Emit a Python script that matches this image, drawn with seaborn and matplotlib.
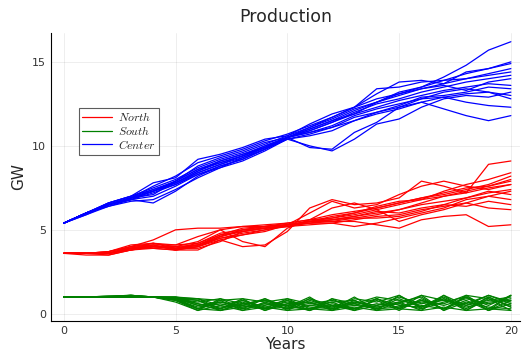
import numpy as np
import pandas as pd
import seaborn as sns
import matplotlib.pyplot as plt

years = list(range(0, 21))

# Center paths (GW), one value per year
center = [
    [5.4, 6.0, 6.5, 6.9, 7.3, 7.8, 8.5, 9.0, 9.4, 9.9, 10.5, 10.9, 11.4, 11.9, 12.3, 12.7, 13.0, 13.3, 13.5, 13.7, 13.6],
    [5.4, 6.0, 6.6, 7.0, 7.5, 8.0, 8.7, 9.2, 9.6, 10.1, 10.6, 11.1, 11.6, 12.2, 12.6, 13.0, 13.4, 13.7, 14.0, 14.3, 14.6],
    [5.4, 5.9, 6.4, 6.7, 6.8, 7.4, 8.1, 8.7, 9.1, 9.7, 10.4, 10.7, 11.1, 11.5, 11.9, 12.2, 12.6, 12.9, 13.1, 13.2, 12.8],
    [5.4, 6.0, 6.5, 6.8, 6.6, 7.3, 8.2, 8.8, 9.2, 9.8, 10.4, 10.0, 9.7, 10.4, 11.3, 11.6, 12.3, 12.8, 13.0, 12.9, 13.2],
    [5.4, 6.0, 6.5, 6.9, 7.6, 8.2, 9.0, 9.4, 9.8, 10.3, 10.7, 11.2, 11.7, 12.3, 13.1, 13.8, 13.9, 13.7, 14.4, 14.6, 15.0],
    [5.4, 6.0, 6.6, 7.0, 7.4, 7.9, 8.6, 9.1, 9.5, 10.0, 10.5, 11.0, 11.5, 12.1, 12.6, 13.2, 13.5, 14.1, 14.8, 15.7, 16.2],
    [5.4, 6.0, 6.4, 6.8, 7.2, 7.7, 8.3, 8.8, 9.2, 9.8, 10.4, 10.6, 10.9, 11.5, 12.0, 12.3, 12.6, 12.2, 11.8, 11.5, 11.8],
    [5.4, 6.0, 6.5, 6.9, 7.3, 7.9, 8.6, 9.0, 9.4, 9.9, 10.5, 10.9, 11.4, 12.0, 12.5, 12.8, 13.2, 13.5, 13.8, 14.0, 14.2],
    [5.4, 6.0, 6.6, 7.0, 7.8, 8.1, 9.2, 9.5, 9.9, 10.4, 10.6, 11.3, 11.9, 12.3, 12.8, 13.1, 13.5, 13.9, 14.0, 14.2, 14.4],
    [5.4, 5.9, 6.5, 6.8, 7.0, 7.6, 8.3, 8.7, 9.3, 9.9, 10.5, 9.9, 9.8, 10.8, 11.4, 12.3, 12.8, 12.9, 12.6, 12.4, 12.3],
    [5.4, 6.0, 6.5, 6.9, 7.3, 7.8, 8.5, 9.1, 9.5, 9.9, 10.5, 11.0, 11.5, 11.9, 12.6, 13.1, 13.4, 13.6, 13.3, 13.8, 14.0],
    [5.4, 6.0, 6.5, 6.9, 7.4, 7.8, 8.4, 8.9, 9.4, 10.0, 10.5, 10.8, 11.2, 11.8, 12.2, 12.5, 12.8, 13.2, 13.4, 13.2, 13.0],
    [5.4, 6.0, 6.5, 6.9, 7.1, 7.9, 8.8, 9.3, 9.7, 10.2, 10.5, 11.1, 11.7, 12.3, 13.4, 13.5, 13.8, 13.9, 14.3, 14.6, 14.9],
    [5.4, 6.0, 6.5, 6.8, 7.3, 7.7, 8.4, 8.9, 9.3, 9.8, 10.5, 10.8, 11.1, 11.7, 12.0, 12.4, 12.9, 13.0, 13.2, 13.5, 13.4],
]

# North paths
north = [
    [3.6, 3.6, 3.6, 3.9, 4.0, 4.0, 4.1, 4.6, 4.9, 5.1, 5.3, 5.5, 5.6, 5.8, 6.0, 6.2, 6.5, 6.7, 6.9, 7.2, 7.4],
    [3.6, 3.6, 3.6, 4.0, 4.4, 5.0, 5.1, 5.1, 5.2, 5.3, 5.4, 5.6, 5.7, 5.9, 6.2, 6.5, 6.8, 7.0, 7.3, 7.6, 7.9],
    [3.6, 3.5, 3.5, 3.8, 4.1, 3.8, 3.8, 4.4, 4.0, 4.1, 4.9, 6.3, 6.8, 6.5, 6.6, 6.9, 7.9, 7.6, 7.2, 8.9, 9.1],
    [3.6, 3.6, 3.7, 4.1, 4.2, 3.9, 3.9, 4.3, 4.9, 5.1, 5.3, 5.4, 5.5, 5.5, 5.3, 5.1, 5.6, 5.8, 5.9, 5.2, 5.3],
    [3.6, 3.6, 3.6, 3.9, 4.0, 3.9, 4.2, 4.8, 5.0, 5.2, 5.4, 5.6, 5.9, 6.1, 6.3, 6.6, 6.9, 7.1, 7.4, 7.7, 8.2],
    [3.6, 3.6, 3.6, 3.8, 3.9, 3.8, 4.0, 4.5, 4.8, 5.0, 5.2, 5.3, 5.4, 5.6, 5.8, 5.9, 6.2, 6.4, 6.6, 6.3, 6.2],
    [3.6, 3.6, 3.7, 4.0, 4.2, 4.0, 4.3, 5.0, 4.3, 4.0, 5.1, 5.6, 6.3, 6.6, 6.2, 5.5, 5.9, 6.2, 6.6, 7.0, 7.3],
    [3.6, 3.6, 3.6, 3.9, 3.9, 3.8, 4.1, 4.7, 5.1, 5.2, 5.3, 5.5, 5.5, 5.7, 5.9, 6.2, 6.6, 7.0, 7.2, 7.5, 7.7],
    [3.6, 3.6, 3.7, 4.0, 4.1, 4.1, 4.6, 5.0, 5.2, 5.2, 5.3, 5.5, 5.8, 6.0, 6.4, 6.7, 6.8, 7.3, 7.7, 8.0, 8.4],
    [3.6, 3.6, 3.5, 3.8, 4.0, 3.9, 4.0, 4.4, 4.7, 5.0, 5.3, 5.4, 5.4, 5.2, 5.4, 5.7, 6.0, 6.3, 6.8, 7.0, 6.8],
    [3.6, 3.6, 3.6, 3.9, 4.2, 4.1, 4.2, 4.7, 4.9, 5.1, 5.2, 5.5, 5.7, 6.0, 6.3, 6.6, 6.9, 7.2, 7.5, 7.6, 8.0],
    [3.6, 3.6, 3.6, 3.9, 4.1, 3.8, 4.0, 4.6, 5.0, 5.2, 5.3, 5.5, 5.6, 5.8, 6.1, 6.0, 6.3, 6.5, 6.9, 7.3, 7.1],
    [3.6, 3.6, 3.6, 3.9, 4.0, 3.9, 4.1, 4.5, 4.7, 4.9, 5.3, 6.0, 6.7, 6.3, 6.5, 7.1, 7.6, 7.9, 7.6, 7.4, 7.7],
    [3.6, 3.6, 3.6, 3.8, 4.0, 3.9, 4.1, 4.6, 5.0, 5.1, 5.2, 5.4, 5.6, 5.7, 5.7, 5.8, 6.1, 6.5, 6.4, 6.7, 6.5],
]

# South paths
south = [
    [1.0, 1.0, 1.0, 1.05, 1.0, 1.0, 0.6, 0.4, 0.5, 0.3, 0.4, 0.3, 0.5, 0.3, 0.6, 0.4, 0.8, 0.5, 0.9, 0.6, 0.9],
    [1.0, 1.0, 1.05, 1.1, 1.0, 0.95, 0.3, 0.2, 0.6, 0.8, 0.5, 0.7, 0.3, 0.6, 0.3, 0.9, 0.4, 1.0, 0.3, 1.0, 0.4],
    [1.0, 1.0, 1.0, 1.0, 1.0, 0.9, 0.9, 0.8, 0.9, 0.7, 0.9, 0.6, 0.8, 0.5, 0.4, 0.6, 0.3, 0.7, 1.0, 0.5, 1.1],
    [1.0, 1.0, 1.0, 1.05, 1.0, 0.8, 0.2, 0.5, 0.2, 0.4, 0.2, 0.3, 0.2, 0.4, 0.2, 0.3, 0.2, 0.4, 0.2, 0.3, 0.2],
    [1.0, 1.0, 1.0, 1.1, 1.0, 0.9, 0.5, 0.7, 0.4, 0.6, 0.3, 0.5, 0.4, 0.7, 0.5, 1.0, 0.6, 0.8, 0.6, 1.1, 0.7],
    [1.0, 1.0, 1.0, 1.0, 1.0, 1.0, 0.8, 0.3, 0.7, 0.2, 0.6, 0.2, 0.6, 0.3, 0.8, 0.2, 0.9, 0.3, 0.8, 0.2, 0.6],
    [1.0, 1.0, 1.05, 1.05, 1.0, 0.85, 0.4, 0.6, 0.3, 0.5, 0.8, 0.4, 0.3, 0.5, 0.9, 0.5, 0.4, 1.1, 0.5, 0.8, 1.0],
    [1.0, 1.0, 1.0, 1.0, 1.0, 0.9, 0.7, 0.9, 0.6, 0.8, 0.3, 0.9, 0.5, 0.2, 0.5, 0.7, 1.0, 0.2, 0.7, 0.4, 0.3],
    [1.0, 1.0, 1.0, 1.1, 1.0, 0.95, 0.5, 0.3, 0.8, 0.4, 0.7, 0.5, 0.7, 0.8, 0.3, 0.4, 0.7, 0.6, 1.1, 0.9, 0.5],
    [1.0, 1.0, 1.0, 1.0, 1.0, 0.8, 0.3, 0.7, 0.5, 0.9, 0.2, 0.8, 0.4, 0.9, 0.7, 1.1, 0.3, 0.9, 0.4, 0.7, 0.8],
    [1.0, 1.0, 1.0, 1.05, 1.0, 0.9, 0.6, 0.2, 0.4, 0.6, 0.5, 0.2, 0.9, 0.6, 1.0, 0.8, 0.5, 0.3, 1.0, 0.2, 1.1],
    [1.0, 1.0, 1.0, 1.0, 1.0, 1.0, 0.9, 0.5, 0.8, 0.3, 0.6, 0.7, 0.2, 0.7, 0.4, 0.6, 1.1, 0.8, 0.5, 1.1, 0.6],
    [1.0, 1.0, 1.0, 1.05, 1.0, 0.7, 0.2, 0.9, 0.3, 0.9, 0.4, 1.0, 0.2, 0.8, 0.2, 0.7, 0.2, 1.1, 0.2, 0.9, 0.2],
    [1.0, 1.0, 1.0, 1.0, 1.0, 0.95, 0.9, 0.3, 0.9, 0.2, 0.8, 0.2, 0.9, 0.2, 0.9, 0.3, 1.1, 0.2, 1.1, 0.3, 1.1],
    [1.0, 1.0, 1.05, 1.1, 1.0, 0.85, 0.3, 0.8, 0.2, 0.7, 0.3, 0.9, 0.3, 1.0, 0.2, 1.1, 0.4, 0.9, 0.2, 1.0, 0.4],
    [1.0, 1.0, 1.0, 1.0, 1.0, 0.9, 0.8, 0.2, 0.6, 0.3, 0.9, 0.3, 0.7, 0.2, 0.9, 0.3, 0.8, 0.3, 1.0, 0.2, 0.8],
]

regions = ["North", "South", "Center"]
colors = {"North": "#ff0000", "South": "#008000", "Center": "#0000ff"}

rows = []
for region, paths in zip(regions, [north, south, center]):
    for i, path in enumerate(paths):
        for yr, v in zip(years, path):
            rows.append((yr, v, region, f"{region}{i}"))
df = pd.DataFrame(rows, columns=["Years", "GW", "region", "path"])

sns.set_style("white")
plt.rcParams["mathtext.fontset"] = "cm"

fig = plt.figure(figsize=(5.24, 3.53), dpi=100)
ax = fig.add_axes([0.097, 0.091, 0.895, 0.816])

sns.lineplot(data=df, x="Years", y="GW", hue="region", units="path",
             estimator=None, palette=colors, hue_order=regions,
             linewidth=0.9, ax=ax, legend=False)

ax.set_xlim(-0.58, 20.4)
ax.set_ylim(-0.42, 16.73)
ax.set_xticks([0, 5, 10, 15, 20])
ax.set_yticks([0, 5, 10, 15])
ax.grid(True, color="#000000", alpha=0.08, linewidth=0.6)
for s in ["top", "right"]:
    ax.spines[s].set_visible(False)
for s in ["left", "bottom"]:
    ax.spines[s].set_color("black")
    ax.spines[s].set_linewidth(0.8)
ax.tick_params(axis="both", labelsize=8, length=3, direction="in", colors="#333333")
ax.set_xlabel("Years", fontsize=11, labelpad=1)
ax.set_ylabel("GW", fontsize=11)
ax.set_title("Production", fontsize=12.5, pad=8)

handles = [plt.Line2D([], [], color=colors[r], linewidth=0.9) for r in regions]
leg = ax.legend(handles, [f"${r}$" for r in regions], loc="upper left",
                bbox_to_anchor=(0.047, 0.76), fontsize=8.5, frameon=True,
                fancybox=False, edgecolor="#333333", handlelength=2.5,
                labelspacing=0.05, borderpad=0.3, handletextpad=0.5)
leg.get_frame().set_linewidth(0.8)

fig.savefig("out.png", dpi=100)
